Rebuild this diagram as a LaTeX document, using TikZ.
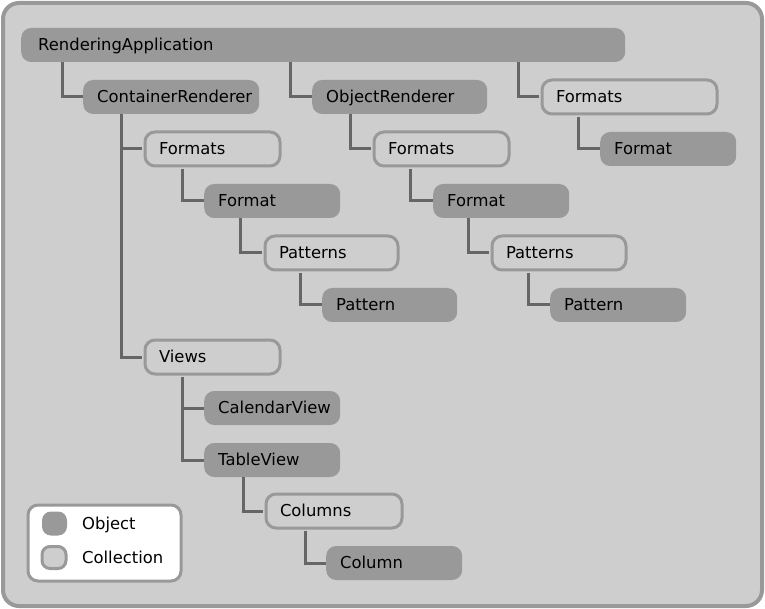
\documentclass[tikz,border=0pt]{standalone}
\usepackage{fontspec}
\setmainfont{DejaVu Sans}
\definecolor{bg}{HTML}{CECECE}
\definecolor{objc}{HTML}{999999}
\definecolor{linec}{HTML}{666666}
\tikzset{
  base/.style={anchor=west, rounded corners=10pt, minimum height=34pt, inner xsep=14pt, inner ysep=0pt, font=\fontsize{16.4}{18}\selectfont, align=left, text height=11pt, text depth=0pt},
  obj/.style={base, fill=objc},
  coll/.style={base, fill=bg, draw=objc, line width=3pt},
  conn/.style={draw=linec, line width=3pt},
  legtext/.style={anchor=west, inner sep=0pt, font=\fontsize{16.4}{18}\selectfont, text height=11pt, text depth=0pt},
}
\newcommand{\nd}[6]{% style, name, x, y, width, text
  \node[#1, minimum width=#5pt, text width=#5pt-28pt] (#2) at (#3,#4) {#6};}
\begin{document}
\begin{tikzpicture}[x=1pt,y=-1pt]
\useasboundingbox (0,0) rectangle (765,609);
\fill[white] (0,0) rectangle (765,609);
\draw[fill=bg, draw=objc, line width=4pt, rounded corners=16pt] (3,3) rectangle (762,606);
% nodes
\node[obj, inner xsep=17pt, minimum width=604pt, text width=570pt] (ra) at (21,45) {RenderingApplication};
\nd{obj}{cr}{83}{97}{176}{ContainerRenderer}
\nd{obj}{or}{312}{97}{175}{ObjectRenderer}
\nd{coll}{fr}{540.5}{97}{175}{Formats}
\nd{obj}{fmr}{600}{149}{136}{Format}
\nd{coll}{f1}{143.5}{149}{135}{Formats}
\nd{obj}{fm1}{204}{201}{136}{Format}
\nd{coll}{p1}{263.5}{253}{133}{Patterns}
\nd{obj}{pt1}{322}{305}{135}{Pattern}
\nd{coll}{f2}{372.5}{149}{135}{Formats}
\nd{obj}{fm2}{433}{201}{136}{Format}
\nd{coll}{p2}{490.5}{253}{134}{Patterns}
\nd{obj}{pt2}{550}{305}{136}{Pattern}
\nd{coll}{vw}{143.5}{357}{135}{Views}
\nd{obj}{cv}{204}{408}{136}{CalendarView}
\nd{obj}{tv}{204}{460}{136}{TableView}
\nd{coll}{cl}{264.5}{511}{136}{Columns}
\nd{obj}{co}{326}{563}{136}{Column}
% connectors
\draw[conn] ([xshift=41pt]ra.south west) |- (cr.west);
\draw[conn] ([xshift=269pt]ra.south west) |- (or.west);
\draw[conn] ([xshift=497pt]ra.south west) |- ([xshift=-1.5pt]fr.west);
\draw[conn] ([xshift=38pt]cr.south west) |- ([xshift=-1.5pt]f1.west);
\draw[conn] ([xshift=38pt]cr.south west) |- ([xshift=-1.5pt]vw.west);
\draw[conn] ([xshift=38.5pt,yshift=-1.5pt]f1.south west) |- (fm1.west);
\draw[conn] ([xshift=36pt]fm1.south west) |- ([xshift=-1.5pt]p1.west);
\draw[conn] ([xshift=36.5pt,yshift=-1.5pt]p1.south west) |- (pt1.west);
\draw[conn] ([xshift=38pt]or.south west) |- ([xshift=-1.5pt]f2.west);
\draw[conn] ([xshift=37.5pt,yshift=-1.5pt]f2.south west) |- (fm2.west);
\draw[conn] ([xshift=35pt]fm2.south west) |- ([xshift=-1.5pt]p2.west);
\draw[conn] ([xshift=37.5pt,yshift=-1.5pt]p2.south west) |- (pt2.west);
\draw[conn] ([xshift=37.5pt,yshift=-1.5pt]fr.south west) |- (fmr.west);
\draw[conn] ([xshift=38.5pt,yshift=-1.5pt]vw.south west) |- (cv.west);
\draw[conn] ([xshift=38.5pt,yshift=-1.5pt]vw.south west) |- (tv.west);
\draw[conn] ([xshift=39pt]tv.south west) |- ([xshift=-1.5pt]cl.west);
\draw[conn] ([xshift=40.5pt,yshift=-1.5pt]cl.south west) |- (co.west);
% legend
\node[draw=objc, fill=white, line width=3pt, rounded corners=10pt, minimum width=153pt, minimum height=76pt, anchor=north west, inner sep=0pt] (leg) at (26.5,503.5) {};
\node[fill=objc, rounded corners=9pt, minimum width=25pt, minimum height=24pt, inner sep=0pt] (lo) at (54.5,523.5) {};
\node[fill=bg, draw=objc, line width=3pt, rounded corners=8pt, minimum width=24pt, minimum height=22pt, inner sep=0pt] (lc) at (54,557.5) {};
\node[legtext] (lot) at (82,523.5) {Object};
\node[legtext] (lct) at (82,557.5) {Collection};
\end{tikzpicture}
\end{document}
